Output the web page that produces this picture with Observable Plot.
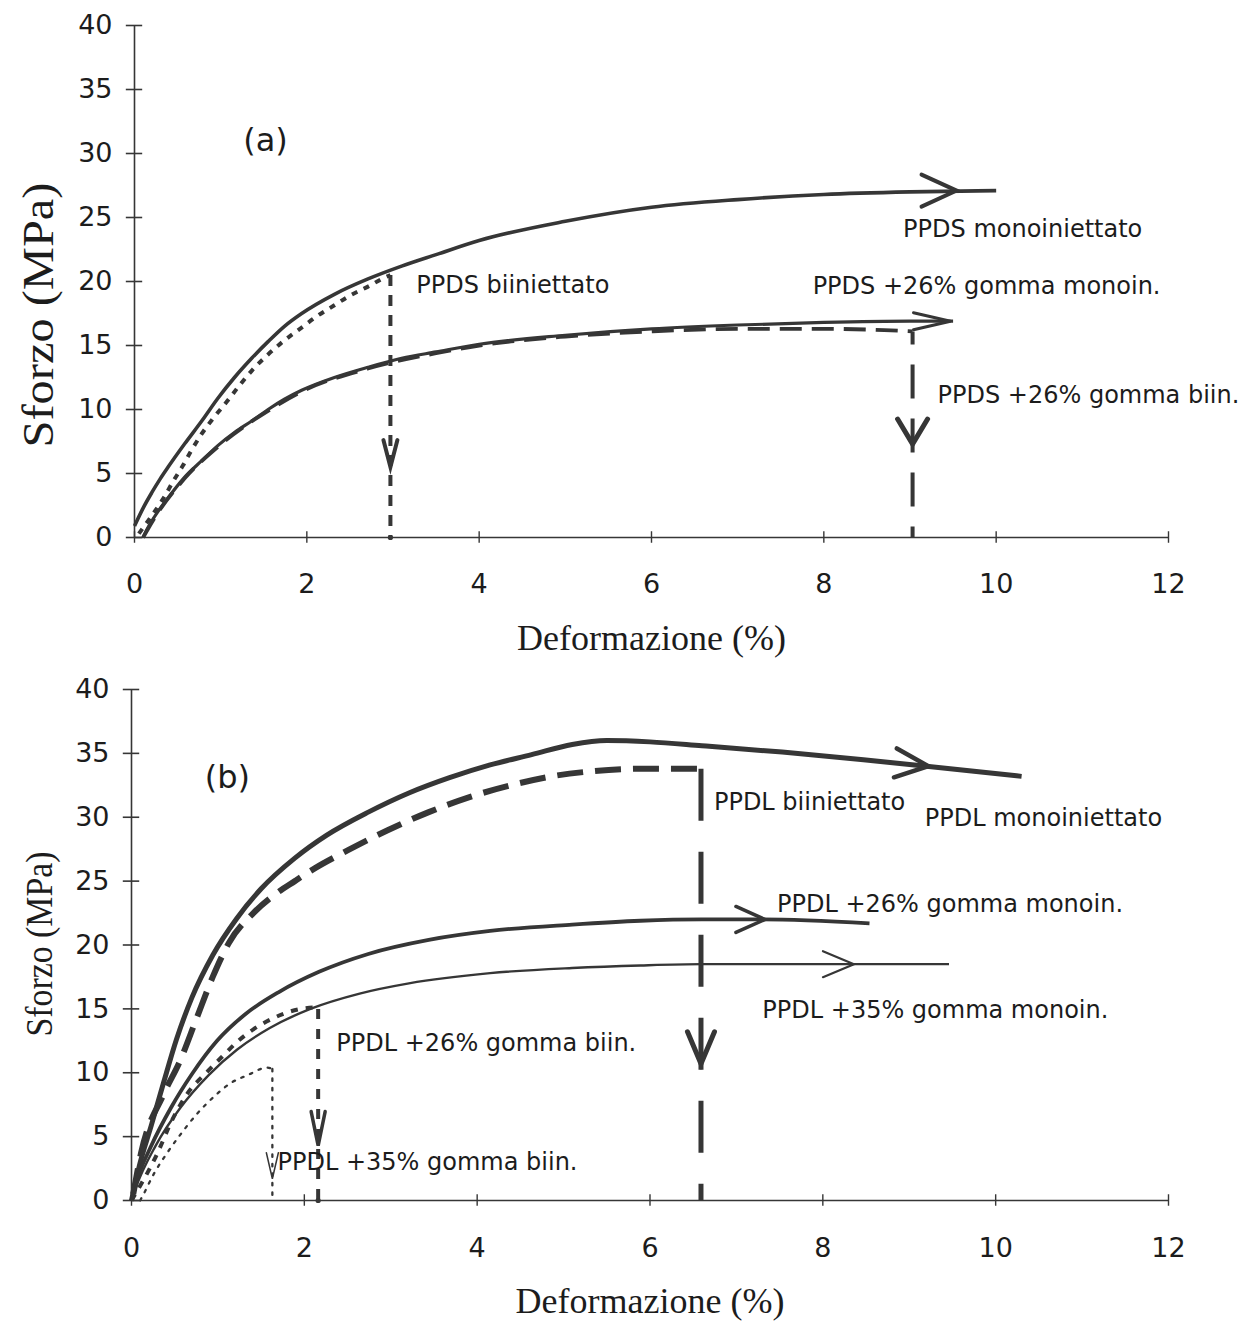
<!DOCTYPE html>
<html><head><meta charset="utf-8">
<script src="https://cdn.jsdelivr.net/npm/d3@7"></script>
<script src="https://cdn.jsdelivr.net/npm/@observablehq/plot@0.6"></script>
<style>
body{margin:0;background:#fff;}
#chart{width:1255px;}
#chart svg{display:block;}
</style></head><body><div id="chart"></div>
<script>
// ---------- data ----------
const xTicks = [0, 2, 4, 6, 8, 10, 12];
const yTicks = [0, 5, 10, 15, 20, 25, 30, 35, 40];
const xLabel = "Deformazione (%)";
const yLabel = "Sforzo (MPa)";

// Panel (a)
const ppdsMono = [[0,0.9],[0.1,2.3],[0.2,3.5],[0.3,4.6],[0.39,5.5],[0.58,7.3],[0.78,9.1],[0.97,10.9],[1.16,12.5],[1.36,14.0],[1.55,15.3],[1.74,16.5],[1.94,17.5],[2.32,19.0],[2.71,20.2],[3.1,21.2],[3.5,22.1],[4,23.2],[5,24.7],[6,25.8],[7,26.4],[8,26.8],[9,27.0],[10,27.1]];
const ppdsBiin = [[0.05,0.3],[0.2,1.7],[0.33,3.0],[0.45,4.4],[0.56,5.6],[0.66,6.8],[0.77,8.0],[0.9,9.2],[1.07,10.6],[1.22,11.9],[1.37,13.1],[1.55,14.3],[1.74,15.4],[1.94,16.4],[2.12,17.3],[2.31,18.1],[2.5,18.9],[2.71,19.6],[2.9,20.3],[2.97,20.5]];
const ppdsBiinDrop = [[2.97,20.5],[2.97,0]];
const ppdsGomMono = [[0.1,0],[0.12,0.3],[0.23,1.6],[0.39,3.1],[0.58,4.7],[0.78,6.0],[0.97,7.2],[1.16,8.2],[1.36,9.1],[1.55,10.0],[1.74,10.8],[1.94,11.5],[2.32,12.5],[2.71,13.3],[3.1,14.0],[3.5,14.5],[4,15.1],[5,15.8],[6,16.3],[7,16.6],[8,16.8],[9,16.9],[9.5,16.9]];
const ppdsGomBiin = [[0.1,0],[0.23,1.5],[0.58,4.6],[0.97,7.1],[1.55,9.9],[1.94,11.4],[2.71,13.2],[3.5,14.4],[4,15.0],[5,15.7],[6,16.1],[7,16.3],[8,16.3],[8.7,16.2],[9.03,16.1]];
const ppdsGomBiinDrop = [[9.03,16.1],[9.03,0]];
const breakPointsA = [2.97];
const arrowsA = [
  {x: 9.54, y: 27.1, dir: 90},
  {x: 9.47, y: 16.9, dir: 90},
  {x: 2.97, y: 5.5, dir: 180},
  {x: 9.03, y: 7.3, dir: 180}
];
const labelsA = [
  {text: "PPDS biiniettato", x: 3.27, y: 19.14},
  {text: "PPDS monoiniettato", x: 8.92, y: 23.44},
  {text: "PPDS +26% gomma monoin.", x: 7.87, y: 19.06},
  {text: "PPDS +26% gomma biin.", x: 9.32, y: 10.47}
];
const tagA = {text: "(a)", x: 1.52, y: 30.2};

// Panel (b)
const ppdlMono = [[0,0],[0.09,2.7],[0.23,5.9],[0.37,9.2],[0.52,12.6],[0.7,15.9],[0.94,19.2],[1.22,22.1],[1.5,24.4],[1.89,26.8],[2.26,28.6],[2.74,30.4],[3.21,31.9],[3.68,33.1],[4.15,34.1],[4.63,34.9],[5.1,35.7],[5.5,36.0],[6,35.9],[6.6,35.6],[7.53,35.1],[8.47,34.5],[9.2,34.0],[10.3,33.2]];
const ppdlBiin = [[0.02,0.5],[0.11,3.7],[0.37,8.3],[0.56,10.9],[0.75,14.2],[0.94,17.5],[1.13,20.2],[1.41,22.5],[1.65,23.9],[1.89,25.0],[2.12,26.0],[2.5,27.4],[2.97,29.0],[3.44,30.4],[3.92,31.6],[4.39,32.5],[4.86,33.2],[5.33,33.6],[5.89,33.8],[6.41,33.8],[6.59,33.8]];
const ppdlBiinDrop = [[6.59,33.8],[6.59,0]];
const ppdl26Mono = [[0,0],[0.05,1.3],[0.23,4.3],[0.46,7.3],[0.7,9.9],[0.99,12.5],[1.32,14.6],[1.7,16.3],[2.17,17.9],[2.74,19.3],[3.44,20.4],[4.15,21.1],[5.1,21.6],[5.89,21.9],[6.6,22.0],[7.3,22.0],[8.54,21.7]];
const ppdl35Mono = [[0,0],[0.05,1.0],[0.28,4.3],[0.57,7.3],[0.89,9.8],[1.22,11.8],[1.6,13.5],[2.07,15.0],[2.64,16.2],[3.21,17.0],[4.15,17.8],[5.1,18.2],[5.89,18.4],[6.6,18.5],[8.33,18.5],[9.46,18.5]];
const ppdl26Biin = [[0,0],[0.3,3.7],[0.47,6.3],[0.65,8.4],[0.88,10.1],[1.07,11.4],[1.22,12.4],[1.41,13.4],[1.65,14.3],[1.84,14.8],[2.11,15.1],[2.16,15.0]];
const ppdl26BiinDrop = [[2.16,15.0],[2.16,0]];
const ppdl35Biin = [[0.1,0],[0.14,0.5],[0.26,2.1],[0.41,3.7],[0.57,5.2],[0.76,6.8],[0.95,8.1],[1.15,9.2],[1.34,9.8],[1.57,10.4],[1.63,10.3]];
const ppdl35BiinDrop = [[1.63,10.3],[1.63,0]];
const breakPointsB = [2.16];
const arrowsB = [
  {x: 9.22, y: 34.0, dir: 95.7},
  {x: 7.33, y: 22.0, dir: 90},
  {x: 8.36, y: 18.5, dir: 90},
  {x: 6.59, y: 10.7, dir: 180},
  {x: 2.16, y: 4.3, dir: 180},
  {x: 1.63, y: 1.7, dir: 180}
];
const labelsB = [
  {text: "PPDL biiniettato", x: 6.74, y: 30.53},
  {text: "PPDL monoiniettato", x: 9.18, y: 29.28},
  {text: "PPDL +26% gomma monoin.", x: 7.47, y: 22.62},
  {text: "PPDL +35% gomma monoin.", x: 7.30, y: 14.25},
  {text: "PPDL +26% gomma biin.", x: 2.37, y: 11.74},
  {text: "PPDL +35% gomma biin.", x: 1.69, y: 2.35}
];
const tagB = {text: "(b)", x: 1.11, y: 32.3};

// ---------- styles ----------
const lineColor = "#363636";
const textColor = "#1c1c1c";
const sans = "DejaVu Sans";
const serif = "Liberation Serif";
const chevron = {draw(ctx, l, r) { ctx.moveTo(-r, 0); ctx.lineTo(0, -l); ctx.lineTo(r, 0); }};

const stylesA = [
  {data: ppdsGomBiin, w: 3.8, dash: "22,10", curve: "monotone-x"},
  {data: ppdsGomBiinDrop, w: 4, dash: "34,20", off: 21, curve: "linear"},
  {data: ppdsBiin, w: 4, dash: "6,7", curve: "monotone-x"},
  {data: ppdsBiinDrop, w: 4, dash: "11,9", curve: "linear"},
  {data: ppdsMono, w: 3.6, curve: "monotone-x"},
  {data: ppdsGomMono, w: 3.2, curve: "monotone-x"}
];
const arrowStylesA = [
  {len: 35, r: 16, w: 4},
  {len: 37, r: 8.5, w: 3},
  {len: 27, r: 7, w: 4},
  {len: 25, r: 15, w: 5}
];
const stylesB = [
  {data: ppdl35Biin, w: 2.3, dash: "2.5,7", cap: "round", curve: "monotone-x"},
  {data: ppdl35BiinDrop, w: 2.3, dash: "2.5,7", cap: "round", curve: "linear"},
  {data: ppdl26Biin, w: 4, dash: "7,8", curve: "monotone-x"},
  {data: ppdl26BiinDrop, w: 4, dash: "10,10", curve: "linear"},
  {data: ppdlBiin, w: 6, dash: "26,12", curve: "monotone-x"},
  {data: ppdlBiinDrop, w: 5, dash: "52,31", curve: "linear"},
  {data: ppdlMono, w: 5, curve: "monotone-x"},
  {data: ppdl26Mono, w: 3.8, curve: "monotone-x"},
  {data: ppdl35Mono, w: 2.4, curve: "monotone-x"}
];
const arrowStylesB = [
  {len: 33, r: 14.5, w: 4.5},
  {len: 29, r: 13, w: 3.5},
  {len: 31, r: 13, w: 2.2},
  {len: 32, r: 13.5, w: 5},
  {len: 34, r: 7, w: 3.5},
  {len: 26, r: 6, w: 1.5}
];

function makePanel(o) {
  const marks = [
    Plot.ruleX([0], {y1: 0, y2: 40, stroke: lineColor, strokeWidth: 1.6}),
    Plot.ruleY([0], {x1: 0, x2: 12, stroke: lineColor, strokeWidth: 1.6}),
    Plot.ruleY(yTicks, {y: d => d, x1: -0.095, x2: 0.095, stroke: lineColor, strokeWidth: 1.6}),
    Plot.ruleX(xTicks, {x: d => d, y1: -0.45, y2: 0.45, stroke: lineColor, strokeWidth: 1.4}),
    Plot.axisY(yTicks, {label: null, tickSize: 0, tickPadding: 22, fontSize: 27, fontFamily: sans}),
    Plot.axisX(xTicks, {label: null, tickSize: 0, tickPadding: o.xPad, fontSize: 27, fontFamily: sans}),
    ...o.styles.map(s => Plot.line(s.data, {
      x: d => d[0], y: d => d[1], curve: s.curve, stroke: lineColor, strokeWidth: s.w,
      strokeDasharray: s.dash, strokeDashoffset: s.off || 0, strokeLinecap: s.cap || "butt", strokeLinejoin: "round"
    })),
    Plot.dot(o.breaks, {x: d => d, y: 0, r: 2.6, fill: lineColor, stroke: "none"}),
    ...o.arrows.map((a, i) => Plot.vector([a], {
      x: "x", y: "y", rotate: "dir", length: o.arrowStyles[i].len, r: o.arrowStyles[i].r,
      anchor: "end", shape: chevron, stroke: lineColor, strokeWidth: o.arrowStyles[i].w,
      strokeLinejoin: "miter", strokeLinecap: "round"
    })),
    Plot.text(o.labels, {x: "x", y: "y", text: "text", textAnchor: "start", lineAnchor: "bottom", fontSize: 24, fontFamily: sans, fill: textColor}),
    Plot.text([o.tag], {x: "x", y: "y", text: "text", textAnchor: "middle", lineAnchor: "bottom", fontSize: 32, fontFamily: sans, fill: textColor}),
    Plot.text([xLabel], {frameAnchor: "bottom", dy: 112, lineAnchor: "bottom", fontSize: 36, fontFamily: serif, fill: textColor}),
    Plot.text([yLabel], {frameAnchor: "left", rotate: -90, dx: o.yLabDx, dy: o.yLabDy, textAnchor: "start", lineAnchor: "bottom", fontSize: o.yLabSize, fontFamily: serif, fill: textColor})
  ];
  const svg = Plot.plot({
    width: 1255, height: o.height,
    marginTop: o.mt, marginBottom: o.mb, marginLeft: o.ml, marginRight: 87,
    x: {domain: [0, 12]}, y: {domain: [0, 40]},
    style: {background: "#fff", color: textColor, overflow: "visible"},
    marks
  });
  for (const t of svg.querySelectorAll("text")) {
    if (t.textContent === yLabel) {
      t.setAttribute("textLength", o.yLabLen);
      t.setAttribute("lengthAdjust", "spacingAndGlyphs");
    }
  }
  return svg;
}

const chart = document.getElementById("chart");
chart.append(makePanel({
  height: 660, mt: 25, mb: 123, ml: 134, xPad: 36,
  styles: stylesA, arrows: arrowsA, arrowStyles: arrowStylesA, breaks: breakPointsA,
  labels: labelsA, tag: tagA,
  yLabDx: -82, yLabDy: 166, yLabSize: 44, yLabLen: 265
}));
chart.append(makePanel({
  height: 661, mt: 29, mb: 121, ml: 131, xPad: 37,
  styles: stylesB, arrows: arrowsB, arrowStyles: arrowStylesB, breaks: breakPointsB,
  labels: labelsB, tag: tagB,
  yLabDx: -80, yLabDy: 91.5, yLabSize: 38, yLabLen: 185
}));
</script></body></html>
